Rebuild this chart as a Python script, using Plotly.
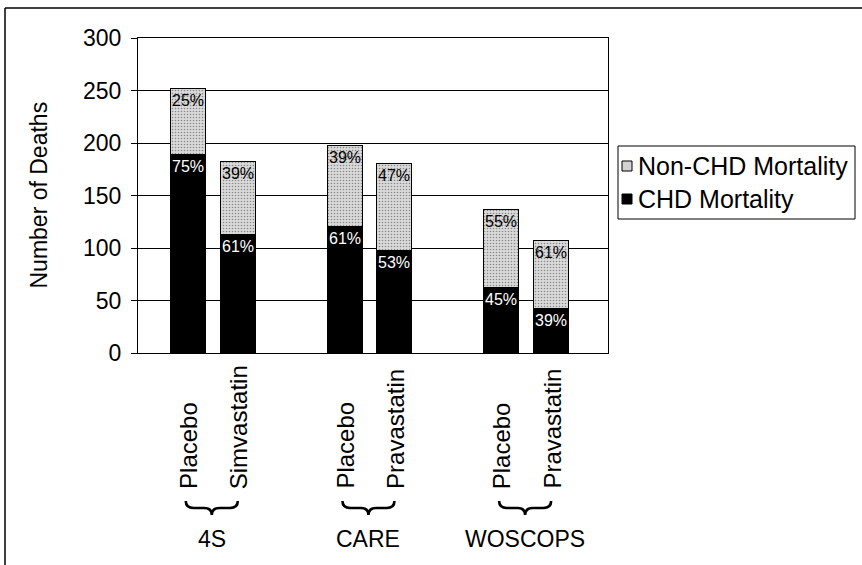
import plotly.graph_objects as go

# ---- data ----
groups = ["4S", "CARE", "WOSCOPS"]
arms = ["Placebo", "Simvastatin", "Placebo", "Pravastatin", "Placebo", "Pravastatin"]
arm_group = [0, 0, 1, 1, 2, 2]
arm_side = [0, 1, 0, 1, 0, 1]
chd = [189, 112, 120, 97, 62, 42]
non_chd = [62, 70, 77, 83, 74, 65]
chd_pct = [75, 61, 61, 53, 45, 39]
non_pct = [25, 39, 39, 47, 55, 61]
y_ticks = [0, 50, 100, 150, 200, 250, 300]
series_names = ["Non-CHD Mortality", "CHD Mortality"]

# ---- layout geometry ----
FONT = "Liberation Sans, Arial, sans-serif"
side_offset = [-0.178, 0.14]
bar_w = 0.223
xpos = [g + side_offset[s] for g, s in zip(arm_group, arm_side)]

# plot area in pixels: x 138..608, y 38..353
L_PX, W_PLOT = 138.0, 470.0
H_PLOT, Y0_PX = 315.0, 353.0
def py(px):
    return (Y0_PX - px) / H_PLOT
def pxx(px):
    return (px - L_PX) / W_PLOT

GRAY = "#d2d2d2"
fig = go.Figure()
fig.add_trace(go.Bar(
    x=xpos, y=chd, width=bar_w, name=series_names[1],
    marker=dict(color="black", line=dict(color="black", width=1)),
    text=[f"{p}%" for p in chd_pct], textposition="inside", insidetextanchor="end",
    textfont=dict(color="white", size=16, family=FONT), textangle=0,
    hoverinfo="skip",
))
fig.add_trace(go.Bar(
    x=xpos, y=non_chd, width=bar_w, name=series_names[0],
    marker=dict(color=GRAY, line=dict(color="black", width=1),
                pattern=dict(shape=".", size=3, solidity=0.22, fgcolor="#8a8a8a",
                             bgcolor="#dadada", fillmode="replace")),
    text=[f"{p}%" for p in non_pct], textposition="inside", insidetextanchor="end",
    textfont=dict(color="black", size=16, family=FONT), textangle=0,
    hoverinfo="skip",
))

annotations = []
shapes = []
# rotated arm labels
for x, lab in zip(xpos, arms):
    annotations.append(dict(x=x, y=py(491), xref="x", yref="paper", text=lab,
                            textangle=-90, xanchor="center", yanchor="bottom",
                            showarrow=False, font=dict(size=24, family=FONT, color="black")))
# group labels and braces
for gi, gname in enumerate(groups):
    xs = [x for x, g in zip(xpos, arm_group) if g == gi]
    xc = sum(xs) / len(xs) - 0.01
    annotations.append(dict(x=xc, y=py(539), xref="x", yref="paper", text=gname,
                            xanchor="center", yanchor="middle", showarrow=False,
                            font=dict(size=23, family=FONT, color="black")))
    hw = 0.166
    dx = 0.05
    xl, xr = xc - hw, xc + hw
    yt, ym, yb = py(501), py(508), py(515)
    path = (f"M {xl},{yt} Q {xl},{ym} {xl+dx},{ym} L {xc-dx},{ym} "
            f"Q {xc},{ym} {xc},{yb} Q {xc},{ym} {xc+dx},{ym} "
            f"L {xr-dx},{ym} Q {xr},{ym} {xr},{yt}")
    shapes.append(dict(type="path", path=path, xref="x", yref="paper",
                       line=dict(color="black", width=2.6)))

# y-axis title
annotations.append(dict(x=pxx(38), y=0.5, xref="paper", yref="paper",
                        text="Number of Deaths", textangle=-90, xanchor="center",
                        yanchor="middle", showarrow=False,
                        font=dict(size=23, family=FONT, color="black")))

# legend box (drawn manually so it fits like the original)
shapes.append(dict(type="rect", xref="paper", yref="paper",
                   x0=pxx(618), x1=pxx(855), y0=py(219), y1=py(146),
                   line=dict(color="black", width=1), fillcolor="white", layer="above"))
for name, fill, yc in zip(series_names, [GRAY, "black"], [166, 199]):
    shapes.append(dict(type="rect", xref="paper", yref="paper",
                       x0=pxx(622), x1=pxx(632), y0=py(yc + 5), y1=py(yc - 5),
                       line=dict(color="black", width=1), fillcolor=fill, layer="above"))
    annotations.append(dict(x=pxx(636), y=py(yc), xref="paper", yref="paper",
                            text=name, xanchor="left", yanchor="middle", showarrow=False,
                            font=dict(size=25, family=FONT, color="black")))

# outer frame (top & left visible)
shapes.append(dict(type="line", xref="paper", yref="paper",
                   x0=pxx(5), x1=pxx(900), y0=py(8), y1=py(8),
                   line=dict(color="black", width=1.5)))
shapes.append(dict(type="line", xref="paper", yref="paper",
                   x0=pxx(5), x1=pxx(5), y0=py(8), y1=py(600),
                   line=dict(color="black", width=1.5)))

fig.update_layout(
    width=862, height=565,
    margin=dict(l=138, r=254, t=38, b=212, autoexpand=False),
    paper_bgcolor="white", plot_bgcolor="white",
    barmode="stack", bargap=0,
    font=dict(family=FONT, color="black"),
    showlegend=False,
    uniformtext=dict(minsize=16, mode="show"),
    annotations=annotations, shapes=shapes,
)
fig.update_xaxes(range=[-0.5, 2.5], showticklabels=False, ticks="", showgrid=False,
                 zeroline=False, showline=True, linecolor="black", linewidth=1, mirror=True,
                 automargin=False)
fig.update_yaxes(range=[0, 300], tickvals=y_ticks, ticks="outside", ticklen=6,
                 tickcolor="black", showgrid=True, gridcolor="black", gridwidth=1,
                 zeroline=False, showline=True, linecolor="black", linewidth=1, mirror=True,
                 automargin=False, ticklabelstandoff=5,
                 tickfont=dict(size=23, family=FONT, color="black"))

fig.write_html("out.html", config={"displayModeBar": False},
               post_script="document.body.style.margin='0px';")
